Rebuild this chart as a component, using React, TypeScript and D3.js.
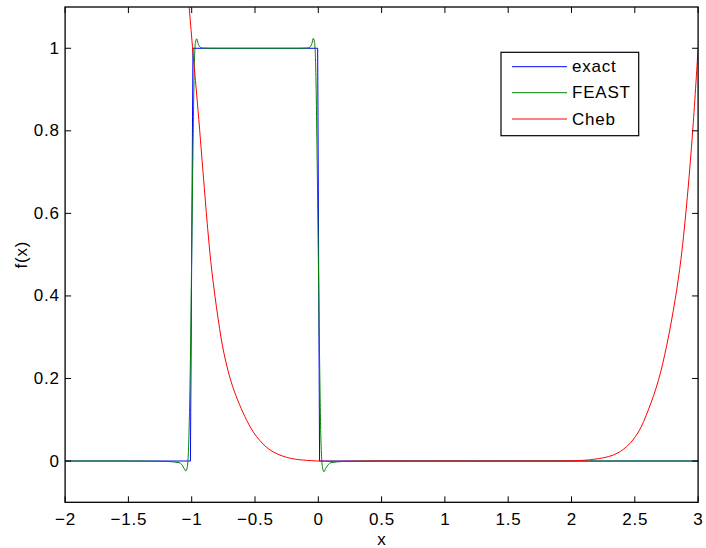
import React from "react";
import * as d3 from "d3";

const exactX = [-2, -1.01, -0.99, -0.005, 0.01, 3];
const exactY = [0, 0, 1, 1, 0, 0];

const feastX = [-2, -1.5, -1.2, -1.1, -1.075, -1.06, -1.047, -1.035, -1.022, -1.01, -1.0, -0.99, -0.98, -0.97, -0.96, -0.95, -0.935, -0.91, -0.85, -0.5, -0.15, -0.09, -0.065, -0.05, -0.04, -0.03, -0.02, -0.01, 0.0, 0.01, 0.02, 0.033, 0.045, 0.058, 0.075, 0.1, 0.2, 0.5, 3];
const feastY = [0, 0, -0.001, -0.004, -0.01, -0.018, -0.024, -0.015, 0.06, 0.25, 0.5, 0.75, 0.95, 1.015, 1.023, 1.012, 1.003, 1.0005, 1.0, 1.0, 1.0, 1.0005, 1.003, 1.012, 1.024, 1.015, 0.95, 0.75, 0.5, 0.25, 0.06, -0.015, -0.026, -0.018, -0.01, -0.004, -0.001, 0, 0];

const chebX = [-1.1, -1.02, -0.99, -0.95, -0.9, -0.87, -0.842, -0.79, -0.745, -0.676, -0.566, -0.487, -0.382, -0.25, -0.065, 0.5, 1.0, 1.5, 2.04, 2.172, 2.33, 2.436, 2.528, 2.607, 2.686, 2.752, 2.818, 2.865, 2.915, 2.962, 3.0];
const chebY = [1.4, 1.1, 0.99, 0.85, 0.66, 0.55, 0.463, 0.342, 0.261, 0.18, 0.099, 0.059, 0.027, 0.009, 0.001, 0, 0, 0, 0.001, 0.004, 0.0145, 0.035, 0.07, 0.124, 0.195, 0.28, 0.39, 0.49, 0.64, 0.82, 1.0];

const xTicks = [-2, -1.5, -1, -0.5, 0, 0.5, 1, 1.5, 2, 2.5, 3];
const yTicks = [0, 0.2, 0.4, 0.6, 0.8, 1];
const legendLabels = ["exact", "FEAST", "Cheb"];
const colors = ["#0000ff", "#008000", "#ff0000"];

const W = 706, H = 548;
const L = 65.1, R = 698.1, T = 7, B = 502.3;
const FONT = "'Liberation Sans', Arial, Helvetica, sans-serif";
const FS = 17;
const LS = 0.8;

export default function App() {
  const x = d3.scaleLinear().domain([-2, 3]).range([L, R]);
  const y = d3.scaleLinear().domain([-0.1, 1.1]).range([B, T]);
  const fmt = (v: number) => (v < 0 ? "\u2212" + String(-v) : String(v));

  const lin = d3.line<[number, number]>().x(d => x(d[0])).y(d => y(d[1]));
  const mono = d3.line<[number, number]>().x(d => x(d[0])).y(d => y(d[1])).curve(d3.curveMonotoneX);
  const cr = d3.line<[number, number]>().x(d => x(d[0])).y(d => y(d[1])).curve(d3.curveCatmullRom.alpha(0.5));

  const series = [
    { d: lin(exactX.map((v, i) => [v, exactY[i]] as [number, number])), c: colors[0] },
    { d: mono(feastX.map((v, i) => [v, feastY[i]] as [number, number])), c: colors[1] },
    { d: cr(chebX.map((v, i) => [v, chebY[i]] as [number, number])), c: colors[2] },
  ];

  const tk = 6;
  const legX = 501, legY = 52.3, legW = 137.7, legH = 83.4;
  const rowY = [66.7, 92.7, 119];

  return (
    <svg width={W} height={H} style={{ position: "absolute", left: 0, top: 0, background: "#fff" }} fontFamily={FONT}>
      <rect x={0} y={0} width={W} height={H} fill="#fff" />
      <defs>
        <clipPath id="plotclip">
          <rect x={L} y={T} width={R - L} height={B - T} />
        </clipPath>
      </defs>
      <g clipPath="url(#plotclip)">
        {series.map((s, i) => (
          <path key={i} d={s.d || ""} fill="none" stroke={s.c} strokeWidth={1} />
        ))}
      </g>
      {xTicks.map(t => (
        <g key={"xt" + t}>
          <line x1={x(t)} x2={x(t)} y1={B} y2={B - tk} stroke="#000" strokeWidth={1} />
          <line x1={x(t)} x2={x(t)} y1={T} y2={T + tk} stroke="#000" strokeWidth={1} />
          <text x={x(t) + LS / 2} y={519} textAnchor="middle" dominantBaseline="central" fontSize={FS} letterSpacing={LS} fill="#000">{fmt(t)}</text>
        </g>
      ))}
      {yTicks.map(t => (
        <g key={"yt" + t}>
          <line x1={L} x2={L + tk} y1={y(t)} y2={y(t)} stroke="#000" strokeWidth={1} />
          <line x1={R} x2={R - tk} y1={y(t)} y2={y(t)} stroke="#000" strokeWidth={1} />
          <text x={59 + LS} y={y(t)} textAnchor="end" dominantBaseline="central" fontSize={FS} letterSpacing={LS} fill="#000">{fmt(t)}</text>
        </g>
      ))}
      <rect x={L} y={T} width={R - L} height={B - T} fill="none" stroke="#000" strokeWidth={1.3} />
      <text x={(L + R) / 2} y={539.5} textAnchor="middle" dominantBaseline="central" fontSize={FS} fill="#000">x</text>
      <text transform={`translate(21,${(T + B) / 2}) rotate(-90)`} textAnchor="middle" dominantBaseline="central" fontSize={FS} letterSpacing={LS} fill="#000">f(x)</text>
      <rect x={legX} y={legY} width={legW} height={legH} fill="#fff" stroke="#000" strokeWidth={1.2} />
      {legendLabels.map((lab, i) => (
        <g key={lab}>
          <line x1={512} x2={567} y1={rowY[i]} y2={rowY[i]} stroke={colors[i]} strokeWidth={1} />
          <text x={572} y={rowY[i]} dominantBaseline="central" fontSize={FS} letterSpacing={LS} fill="#000">{lab}</text>
        </g>
      ))}
    </svg>
  );
}
